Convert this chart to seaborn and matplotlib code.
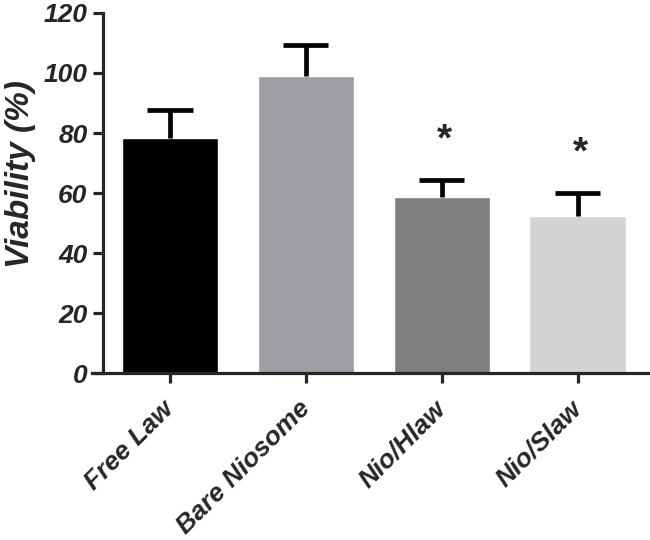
import numpy as np
import pandas as pd
import matplotlib
matplotlib.use("Agg")
import matplotlib.pyplot as plt
import seaborn as sns

# values
groups = ["Free Law", "Bare Niosome", "Nio/Hlaw", "Nio/Slaw"]
viability = [78.3, 99.1, 58.8, 52.4]
sd_upper = [9.4, 10.3, 5.6, 7.7]
significant = [False, False, True, True]
bar_colors = ["#000000", "#9e9ea4", "#7f7f7f", "#d4d4d4"]

df = pd.DataFrame({"group": groups, "viability": viability})

sns.set_style("ticks")
plt.rcParams["font.family"] = ["Liberation Sans", "DejaVu Sans"]

fig = plt.figure(figsize=(6.5, 5.4), dpi=100)
ax = fig.add_axes([0.1415, 0.309, 0.855, 0.667])

sns.barplot(data=df, x="group", y="viability", hue="group", palette=bar_colors,
            width=0.71, legend=False, ax=ax, saturation=1)

# upper-only SD bars
x = np.arange(len(groups))
tops = np.array(viability) + np.array(sd_upper)
ax.vlines(x, viability, tops, color="black", lw=3.4, zorder=3)
ax.hlines(tops, x - 0.166, x + 0.166, color="black", lw=3.4, zorder=3)

for xi, t, sig in zip(x, tops, significant):
    if sig:
        ax.text(xi + 0.02, t + 13, "*", ha="center", va="center",
                fontsize=28, fontweight="bold")

ax.set_ylim(0, 120)
ax.set_yticks(range(0, 121, 20))
ax.set_xlim(-0.574, 3.515)
ax.spines["left"].set_position(("data", -0.495))
sns.despine(ax=ax)
for side in ["left", "bottom"]:
    ax.spines[side].set_linewidth(2.3)

ax.tick_params(axis="both", length=7, width=2.3, direction="out")
ax.tick_params(axis="y", pad=4)
ax.tick_params(axis="x", pad=16)
ax.set_xlabel("")
ax.set_ylabel("Viability (%)", fontsize=24, fontweight="bold", style="italic")
ax.yaxis.set_label_coords(-0.1, 0.553)
for lab in ax.get_yticklabels():
    lab.set_fontsize(19)
    lab.set_fontweight("bold")
    lab.set_style("italic")
ax.set_xticks(x)
ax.set_xticklabels(groups, rotation=45, ha="right", va="center",
                   rotation_mode="anchor",
                   fontsize=19, fontweight="bold", style="italic")

fig.savefig("out.png", dpi=100)
